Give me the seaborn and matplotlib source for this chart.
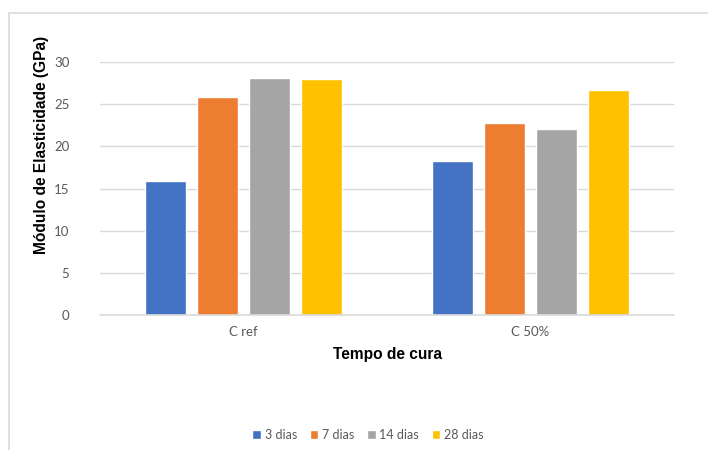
import matplotlib
matplotlib.use("Agg")
import matplotlib.pyplot as plt
import seaborn as sns
import pandas as pd
from matplotlib.patches import Rectangle

# Data
groups = ["C ref", "C 50%"]
periods = ["3 dias", "7 dias", "14 dias", "28 dias"]
modulus_cref = [15.9, 25.9, 28.1, 28.0]
modulus_c50 = [18.3, 22.8, 22.0, 26.7]
colors = ["#4472C4", "#ED7D31", "#A5A5A5", "#FFC000"]

rows = []
for g, vals in zip(groups, [modulus_cref, modulus_c50]):
    for p, v in zip(periods, vals):
        rows.append({"Grupo": g, "Tempo": p, "Modulo": v})
df = pd.DataFrame(rows)

sns.set_style("white")
plt.rcParams["font.family"] = ["Lato", "DejaVu Sans"]

fig = plt.figure(figsize=(7.08, 4.5), dpi=100)
ax = fig.add_axes([100 / 708, 1 - 315 / 450, 574 / 708, (315 - 62) / 450])

sns.barplot(data=df, x="Grupo", y="Modulo", hue="Tempo", order=groups,
            hue_order=periods, palette=colors, width=0.725, gap=0.21,
            saturation=1, ax=ax, legend=True)

ax.set_ylim(0, 30)
ax.set_yticks(range(0, 31, 5))
ax.yaxis.grid(True, color="#D9D9D9", linewidth=1)
ax.axhline(0, color="#D9D9D9", linewidth=1.2, clip_on=False, zorder=3)
ax.set_axisbelow(True)
for s in ax.spines.values():
    s.set_visible(False)
ax.tick_params(axis="both", length=0, labelsize=9.5, labelcolor="#595959")
ax.tick_params(axis="y", pad=22)
ax.tick_params(axis="x", pad=8)
ax.set_xlabel("")
ax.set_ylabel("")

# Axis titles
fig.text(388 / 708, 1 - 355 / 450, "Tempo de cura", ha="center", va="center",
         fontsize=11.2, fontweight="bold", color="black",
         family=["Liberation Sans", "DejaVu Sans"])
fig.text(42 / 708, 1 - 145 / 450, "Módulo de Elasticidade (GPa)", ha="center",
         va="center", rotation=90, fontsize=11.2, fontweight="bold", color="black",
         family=["Liberation Sans", "DejaVu Sans"])

# Legend at the bottom
handles, labels = ax.get_legend_handles_labels()
ax.get_legend().remove()
fig.legend(handles, labels, loc="center", bbox_to_anchor=(368 / 708, 1 - 435 / 450),
           ncol=4, frameon=False, fontsize=9, handlelength=0.7, handleheight=0.7,
           handletextpad=0.3, columnspacing=1.0, labelcolor="#595959")

# Chart-area border (only top and left edges fall inside the picture)
fig.patches.append(Rectangle((9 / 708, -0.2), 1.5, 1.2 - 13 / 450, transform=fig.transFigure,
                             fill=False, edgecolor="#D9D9D9", linewidth=1.2))

fig.savefig("out.png", dpi=100)
plt.close(fig)
